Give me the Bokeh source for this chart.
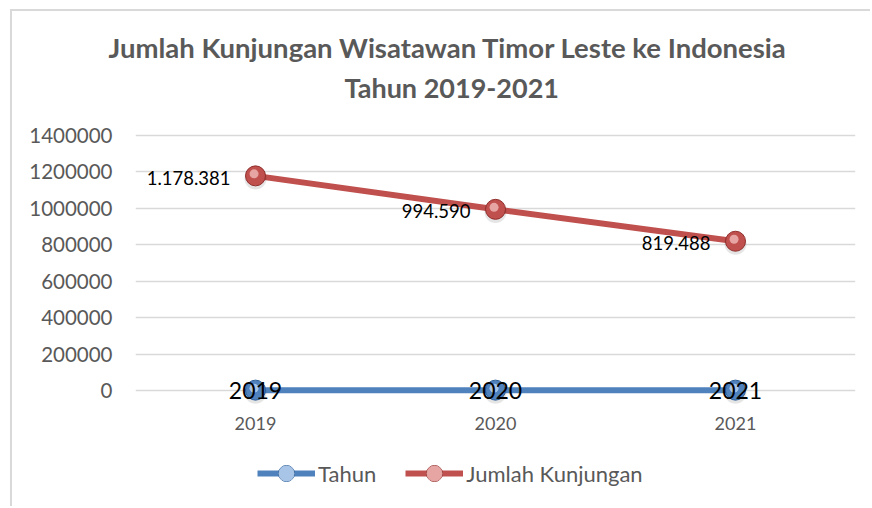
from bokeh.plotting import figure
from bokeh.models import (FactorRange, Range1d, FixedTicker, NumeralTickFormatter,
                          Legend, LegendItem, Title, ColumnDataSource, LabelSet)
from bokeh.transform import dodge
from bokeh.core.properties import value
from bokeh.embed import file_html
from bokeh.resources import INLINE

# ---- data ----
years = ["2019", "2020", "2021"]
tahun = [2019, 2020, 2021]
kunjungan = [1178381, 994590, 819488]
kunjungan_labels = ["1.178.381", "994.590", "819.488"]
tahun_labels = ["2019", "2020", "2021"]
y_ticks = [0, 200000, 400000, 600000, 800000, 1000000, 1200000, 1400000]
title_lines = ["Jumlah Kunjungan Wisatawan Timor Leste ke Indonesia", "Tahun 2019-2021"]

FONT = "Lato"
BLUE = "#4F81BD"
RED = "#C0504D"
GRAY = "#595959"

# layout geometry (pixels)
PX_PER_UNIT = 36.43 / 200000
y_end = y_ticks[-1] + 27 / PX_PER_UNIT
y_start = -118 / PX_PER_UNIT

src = ColumnDataSource(dict(x=years, tahun=tahun, kunj=kunjungan,
                            klab=kunjungan_labels, tlab=tahun_labels,
                            base=[y_ticks[0]] * len(years)))

p = figure(width=860, height=497, x_range=FactorRange(*years, range_padding=0),
           y_range=Range1d(y_start, y_end), output_backend="svg", toolbar_location=None,
           min_border_left=123, min_border_right=17, min_border_top=97, min_border_bottom=0)
p.styles = {"margin-left": "10px", "margin-top": "9px",
            "border-left": "2px solid #d9d9d9", "border-top": "2px solid #d9d9d9"}
p.outline_line_color = None
p.background_fill_color = "white"
p.border_fill_color = "white"

# titles
p.title = None
t2 = Title(text=title_lines[1], align="left", offset=209, text_font=FONT,
           text_font_size="27px", text_font_style="bold", text_color=GRAY, standoff=10)
t1 = Title(text=title_lines[0], align="left", offset=-27, text_font=FONT,
           text_font_size="27.5px", text_font_style="bold", text_color=GRAY, standoff=0)
p.add_layout(t2, "above")
p.add_layout(t1, "above")

# axes
p.xaxis.visible = False
p.yaxis.ticker = FixedTicker(ticks=y_ticks)
p.yaxis.formatter = NumeralTickFormatter(format="0")
p.yaxis.axis_line_color = None
p.yaxis.major_tick_line_color = None
p.yaxis.minor_tick_line_color = None
p.yaxis.major_label_text_font = FONT
p.yaxis.major_label_text_color = GRAY
p.yaxis.major_label_text_font_size = "20.5px"
p.yaxis.major_label_standoff = 17
p.xgrid.grid_line_color = None
p.ygrid.grid_line_color = "#d9d9d9"
p.ygrid.grid_line_width = 1.3
p.ygrid.ticker = FixedTicker(ticks=y_ticks)

# category labels (x axis)
p.add_layout(LabelSet(x="x", y="base", text="x", source=src, text_align="center",
                      text_baseline="middle", y_offset=-33, text_font=value(FONT),
                      text_font_size="18px", text_color=GRAY))

def series(col, color, dark, light):
    ln = p.line("x", col, source=src, line_width=6, line_color=color)
    p.scatter("x", dodge(col, -14000, range=p.y_range), source=src, size=22,
              fill_color="#000000", fill_alpha=0.10, line_color=None)
    base = p.scatter("x", col, source=src, size=20, fill_color=color, line_color=dark,
                     line_width=1)
    hl = p.scatter(dodge("x", -0.006, range=p.x_range), dodge(col, 11000, range=p.y_range),
                   source=src, size=9, fill_color=light, fill_alpha=0.7, line_color=None)
    return [ln, base, hl]

blue_r = series("tahun", BLUE, "#2f5f97", "#cfe3fb")
red_r = series("kunj", RED, "#8f2f2d", "#f6c9c8")

# data labels
p.add_layout(LabelSet(x="x", y="kunj", text="klab", source=src, text_align="right",
                      text_baseline="middle", x_offset=-25, y_offset=-2,
                      text_font=value(FONT), text_font_size="18.5px", text_color="black"))
p.add_layout(LabelSet(x="x", y="tahun", text="tlab", source=src, text_align="center",
                      text_baseline="middle", x_offset=0, y_offset=0,
                      text_font=value(FONT), text_font_size="23px", text_color="black"))

legend = Legend(items=[LegendItem(label="Tahun", renderers=blue_r),
                       LegendItem(label="Jumlah Kunjungan", renderers=red_r)],
                orientation="horizontal", location=(122, 15), glyph_width=58,
                glyph_height=40, label_standoff=3, spacing=29, padding=0, margin=0,
                border_line_color=None, background_fill_alpha=0,
                label_text_font=FONT, label_text_font_size="22px", label_text_color=GRAY)
p.add_layout(legend)

open("out.html", "w").write(file_html(p, INLINE))
